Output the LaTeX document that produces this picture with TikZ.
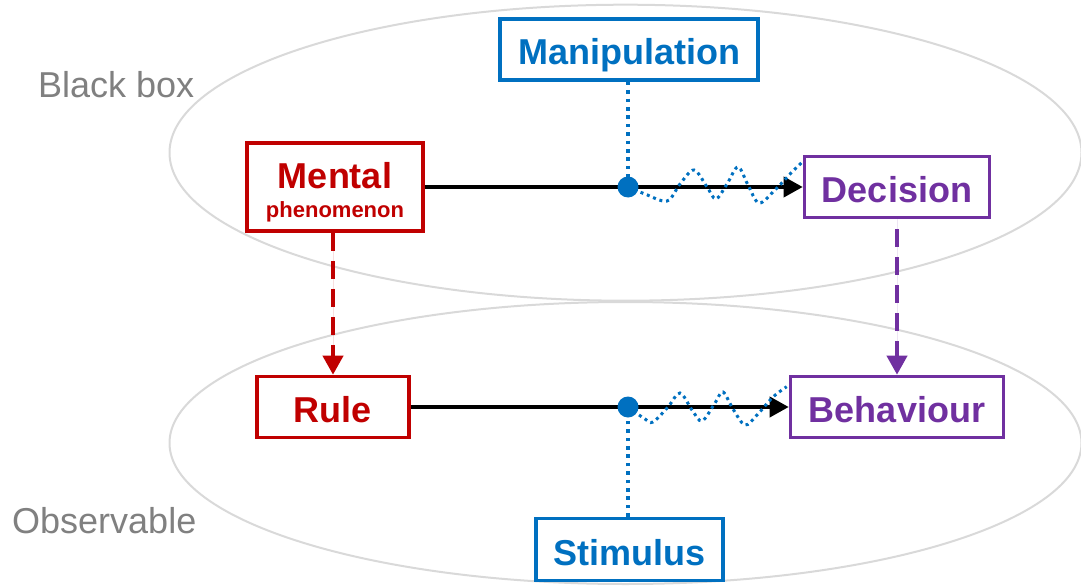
\documentclass[tikz,border=0pt]{standalone}
\usepackage{fontspec}
\setmainfont{Liberation Sans}
\usetikzlibrary{arrows.meta,calc}

\definecolor{cred}{HTML}{C00000}
\definecolor{cblue}{HTML}{0070C0}
\definecolor{cpurple}{HTML}{7030A0}
\definecolor{cgraytext}{HTML}{808080}
\definecolor{cring}{HTML}{D9D9D9}

\tikzset{
  boxnode/.style={draw, line width=3.6pt, rectangle, inner sep=0pt,
    text height=31pt, text depth=0pt, minimum height=61pt,
    font=\bfseries\fontsize{36}{43}\selectfont},
  ring/.style={draw=cring, line width=2pt},
  zonelabel/.style={anchor=base west, inner sep=0pt, text=cgraytext,
    font=\fontsize{36}{43}\selectfont},
  causal/.style={line width=3.8pt, -{Triangle[length=19pt,width=20pt]}},
  mapping/.style={line width=4pt, dash pattern=on 18pt off 10pt,
    -{Triangle[length=19pt,width=20pt]}},
  hub/.style={circle, fill=cblue, minimum size=21pt, inner sep=0pt},
  probe/.style={draw=cblue, line width=3.6pt, dash pattern=on 3.6pt off 4.8pt},
  noise/.style={draw=cblue, line width=3pt, dash pattern=on 3pt off 3.8pt},
}

\begin{document}
\begin{tikzpicture}[x=1pt, y=-1pt]
\useasboundingbox (0,0) rectangle (1081,586);

% the two levels of description
\draw[ring] (625.5,152.7) ellipse [x radius=456, y radius=148];
\draw[ring] (625.5,443) ellipse [x radius=456, y radius=141];

\node[zonelabel] (lblack) at (38,97) {Black box};
\node[zonelabel] (lobs) at (12,533) {Observable};

% boxes
\node[boxnode, draw=cblue, text=cblue, minimum width=258pt] (man) at (629,49.5) {Manipulation};
\node[boxnode, draw=cred, minimum width=176pt, minimum height=88pt] (men) at (335,187) {};
\node[anchor=base, inner sep=0pt, text=cred, font=\bfseries\fontsize{36}{43}\selectfont] (menA) at (335,188) {Mental};
\node[anchor=base, inner sep=0pt, text=cred, font=\bfseries\fontsize{22}{26}\selectfont] (menB) at (335,217) {phenomenon};
\node[boxnode, draw=cpurple, text=cpurple, minimum width=185pt] (dec) at (897,187) {Decision};
\node[boxnode, draw=cred, text=cred, minimum width=152pt] (rule) at (333,407) {Rule};
\node[boxnode, draw=cpurple, text=cpurple, minimum width=213pt] (beh) at (897,407) {Behaviour};
\node[boxnode, draw=cblue, text=cblue, minimum width=187pt, minimum height=62pt] (stim) at (629.5,549.5) {Stimulus};

% hubs on the causal lines
\coordinate (h1) at (628,187);
\coordinate (h2) at (628,407);

% causal arrows
\draw[causal] (men.east) -- (dec.west);
\draw[causal] (rule.east) -- (beh.west);

% level mappings
\draw[mapping, draw=cred, fill=cred] (rule.north |- men.south) -- (rule.north);
\draw[mapping, draw=cpurple, fill=cpurple, dash phase=-10pt] (beh.north |- dec.south) -- (beh.north);

% manipulation and stimulus probes
\draw[probe] (h1 |- man.south) -- (h1);
\draw[probe] (h2 |- stim.north) -- (h2);

% noisy influence
\draw[noise] plot[smooth, tension=0.55] coordinates {
  (h1) (645,194) (667,201) (680,184) (694,170) (707,187) (716,199)
  (727,184) (738,167) (748,185) (759,203) (775,190) (792,172) ($(dec.north west)+(0,7)$)};
\draw[noise] plot[smooth, tension=0.55] coordinates {
  (h2) (645,419) (653,422) (668,407) (680,393) (692,410) (702,421)
  (715,403) (723,392) (733,409) (745,425) (757,415) (773,397) ($(beh.north west)+(-2,12)$)};

\node[hub] (dot1) at (h1) {};
\node[hub] (dot2) at (h2) {};
\end{tikzpicture}
\end{document}
